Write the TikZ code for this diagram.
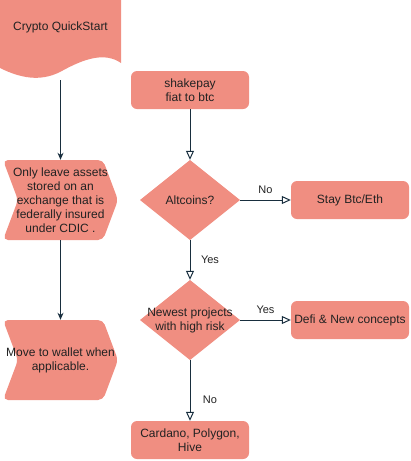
\documentclass[tikz,border=0pt]{standalone}
\usepackage{fontspec}
\setmainfont{Liberation Sans}
\usetikzlibrary{arrows.meta}
\definecolor{salmon}{HTML}{F08E81}
\definecolor{linec}{HTML}{182E3E}
\definecolor{txt}{HTML}{222222}
\begin{document}
\begin{tikzpicture}[x=1pt,y=-1pt,
  every node/.style={font=\fontsize{12}{14}\selectfont, text=txt, align=center, inner sep=0pt},
  box/.style={fill=salmon, rounded corners=6pt, minimum width=118pt, minimum height=38pt},
  area/.style 2 args={minimum width=#1, minimum height=#2},
  fwd/.style={draw=linec, line width=1pt, -{Stealth[length=7pt,width=6pt]}},
  opn/.style={draw=linec, line width=1pt, -{Triangle[open,length=9pt,width=8pt,fill=white]}},
  lbl/.style={font=\fontsize{11}{13}\selectfont}]
\useasboundingbox (0,0) rectangle (411,461);

% document shape
\fill[salmon] (0,0) -- (121,0) -- (121,63)
  .. controls (105,52) and (85,58) .. (60,72)
  .. controls (40,82) and (20,78) .. (0,68) -- cycle;
\node (doc) at (60.5,27) {Crypto QuickStart};
\coordinate (docbot) at (60.5,80);

% step shapes
\fill[salmon, rounded corners=5pt] (3,160) -- (103,160) -- (118,200) -- (103,240) -- (3,240) -- (18,200) -- cycle;
\node[area={115pt}{80pt}] (s1) at (60.5,200) {Only leave assets\\stored on an\\exchange that is\\federally insured\\under CDIC .};
\fill[salmon, rounded corners=5pt] (3,320) -- (103,320) -- (118,360) -- (103,400) -- (3,400) -- (18,360) -- cycle;
\node[area={115pt}{80pt}] (s2) at (60.5,360) {Move to wallet when\\applicable.};

% boxes
\node[box] (shake) at (190,90) {shakepay\\fiat to btc};
\node[box] (stay) at (350,200) {Stay Btc/Eth};
\node[box] (defi) at (350,320) {Defi \& New concepts};
\node[box] (card) at (190,440) {Cardano, Polygon,\\Hive};

% diamonds
\fill[salmon] (140,200) -- (190,160) -- (240,200) -- (190,240) -- cycle;
\node[area={100pt}{80pt}] (alt) at (190,200) {Altcoins?};
\fill[salmon] (140,320) -- (190,280) -- (240,320) -- (190,360) -- cycle;
\node[area={100pt}{80pt}] (new) at (190,320) {Newest projects\\with high risk};

% connectors
\draw[fwd] (docbot) -- (s1.north);
\draw[fwd] (s1.south) -- (s2.north);
\draw[opn] (shake.south) -- (alt.north);
\draw[opn] (alt.east) -- node[lbl, yshift=10pt] {No} (stay.west);
\draw[opn] (alt.south) -- node[lbl, xshift=20pt] {Yes} (new.north);
\draw[opn] (new.east) -- node[lbl, yshift=10pt] {Yes} (defi.west);
\draw[opn] (new.south) -- node[lbl, pos=0.66, xshift=20pt] {No} (card.north);
\end{tikzpicture}
\end{document}
